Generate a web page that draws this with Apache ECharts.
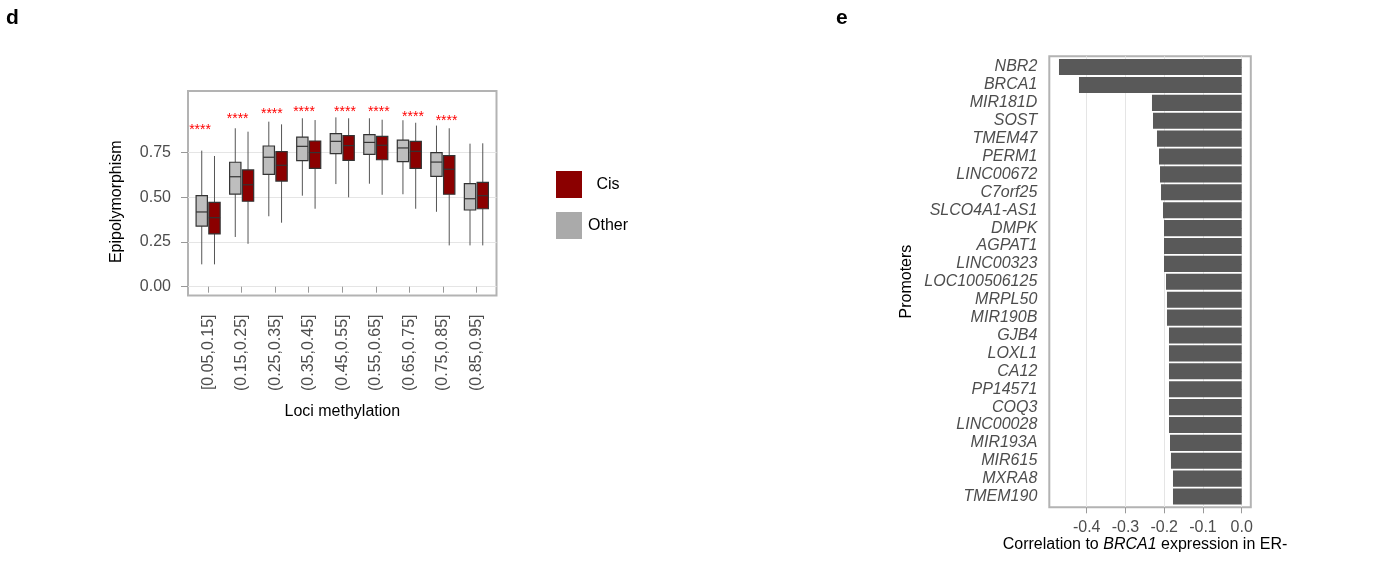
<!DOCTYPE html>
<html><head><meta charset="utf-8">
<script src="https://cdn.jsdelivr.net/npm/echarts@6/dist/echarts.min.js"></script>
<style>html,body{margin:0;padding:0;background:#fff}#c{width:1397px;height:567px}</style>
</head><body><div id="c"></div>
<script>
// ---------- Panel d data ----------
const categories = ['[0.05,0.15]','(0.15,0.25]','(0.25,0.35]','(0.35,0.45]','(0.45,0.55]','(0.55,0.65]','(0.65,0.75]','(0.75,0.85]','(0.85,0.95]'];
// [lower whisker, Q1, median, Q3, upper whisker]
const otherStats = [
  [0.125, 0.339, 0.418, 0.509, 0.761],
  [0.278, 0.518, 0.615, 0.696, 0.886],
  [0.394, 0.628, 0.724, 0.787, 0.923],
  [0.509, 0.705, 0.785, 0.836, 0.942],
  [0.574, 0.744, 0.813, 0.856, 0.947],
  [0.576, 0.740, 0.807, 0.850, 0.942],
  [0.517, 0.699, 0.776, 0.820, 0.931],
  [0.419, 0.617, 0.697, 0.750, 0.901],
  [0.231, 0.429, 0.492, 0.576, 0.800]
];
const cisStats = [
  [0.125, 0.295, 0.386, 0.472, 0.731],
  [0.240, 0.478, 0.570, 0.653, 0.867],
  [0.358, 0.591, 0.679, 0.755, 0.908],
  [0.436, 0.662, 0.750, 0.815, 0.932],
  [0.500, 0.707, 0.789, 0.845, 0.942],
  [0.514, 0.710, 0.791, 0.841, 0.934],
  [0.436, 0.662, 0.757, 0.813, 0.917],
  [0.231, 0.517, 0.657, 0.733, 0.886],
  [0.231, 0.436, 0.509, 0.584, 0.802]
];
const sigLabels = ['****','****','****','****','****','****','****','****'];
const sigY = [0.889, 0.951, 0.975, 0.986, 0.990, 0.986, 0.962, 0.936];
const sigShift = [-0.24, -0.12, -0.10, -0.14, 0.08, 0.09, 0.11, 0.11];
const leftYTicks = [0, 0.25, 0.5, 0.75];

// ---------- Panel e data ----------
const promoters = ['NBR2','BRCA1','MIR181D','SOST','TMEM47','PERM1','LINC00672','C7orf25','SLCO4A1-AS1','DMPK','AGPAT1','LINC00323','LOC100506125','MRPL50','MIR190B','GJB4','LOXL1','CA12','PP14571','COQ3','LINC00028','MIR193A','MIR615','MXRA8','TMEM190'];
const correlations = [-0.4715,-0.4199,-0.2315,-0.2289,-0.2186,-0.2134,-0.2108,-0.2082,-0.2031,-0.2005,-0.2005,-0.2005,-0.1953,-0.1928,-0.1928,-0.1876,-0.1876,-0.1876,-0.1876,-0.1876,-0.1876,-0.1850,-0.1825,-0.1773,-0.1773];
const rightXTicks = [-0.4, -0.3, -0.2, -0.1, 0];

const FONT = '"Liberation Sans", Arial, Helvetica, sans-serif';
const FRAME = '#B3B3B3';
const TICK = '#999999';
const LABEL = '#4D4D4D';
const GRIDLINE = '#E5E5E5';

const chart = echarts.init(document.getElementById('c'), null, {renderer: 'canvas'});

function boxRender(side, fill) {
  return function (params, api) {
    const i = api.value(0);
    const band = api.size([1, 0])[0];
    const base = api.coord([i, api.value(1)]);
    const cx = base[0] + side * 0.19 * band;
    const w = 0.337 * band;
    const yLo = base[1];
    const yQ1 = api.coord([i, api.value(2)])[1];
    const yMed = api.coord([i, api.value(3)])[1];
    const yQ3 = api.coord([i, api.value(4)])[1];
    const yHi = api.coord([i, api.value(5)])[1];
    return {
      type: 'group',
      children: [
        {type: 'line', shape: {x1: cx, y1: yHi, x2: cx, y2: yQ3}, style: {stroke: '#555', lineWidth: 1}},
        {type: 'line', shape: {x1: cx, y1: yQ1, x2: cx, y2: yLo}, style: {stroke: '#555', lineWidth: 1}},
        {type: 'rect', shape: {x: cx - w / 2, y: yQ3, width: w, height: yQ1 - yQ3}, style: {fill: fill, stroke: '#333', lineWidth: 1.2}},
        {type: 'line', shape: {x1: cx - w / 2, y1: yMed, x2: cx + w / 2, y2: yMed}, style: {stroke: '#333', lineWidth: 1.2}}
      ]
    };
  };
}

function sigRender(params, api) {
  const i = api.value(0);
  const band = api.size([1, 0])[0];
  const p = api.coord([i, api.value(1)]);
  return {
    type: 'text',
    x: p[0] + api.value(2) * band,
    y: p[1] + 2,
    style: {text: sigLabels[params.dataIndex], fill: '#FF0000', font: '14px ' + FONT, align: 'center', verticalAlign: 'middle'}
  };
}

const leftMin = -0.0492, leftMax = 1.0945;
const rightMin = -0.4965, rightMax = 0.0235;

const option = {
  backgroundColor: '#ffffff',
  animation: false,
  textStyle: {fontFamily: FONT},
  grid: [
    {left: 188, top: 91, width: 308.5, height: 204.5, show: true, borderColor: FRAME, borderWidth: 2, backgroundColor: 'transparent'},
    {left: 191.35, top: 91, width: 301.8, height: 204.5, show: false},
    {left: 1049.3, top: 56.3, width: 201.5, height: 451, show: true, borderColor: FRAME, borderWidth: 2, backgroundColor: 'transparent'},
    {left: 1049.3, top: 58.09, width: 201.5, height: 447.42, show: false}
  ],
  xAxis: [
    {gridIndex: 0, type: 'value', min: 0, max: 1, show: false},
    {gridIndex: 1, type: 'category', data: categories, boundaryGap: true,
      axisLine: {show: false},
      axisTick: {show: true, alignWithLabel: true, length: 6, lineStyle: {color: TICK}},
      axisLabel: {rotate: 90, margin: 19, fontSize: 16, color: LABEL, fontFamily: FONT, interval: 0, padding: [8, 0, 0, 0]},
      splitLine: {show: false}},
    {gridIndex: 2, type: 'value', min: rightMin, max: rightMax,
      axisLine: {show: false},
      axisTick: {show: true, length: 6, lineStyle: {color: TICK}, customValues: rightXTicks},
      axisLabel: {fontSize: 16, color: LABEL, fontFamily: FONT, margin: 12, customValues: rightXTicks,
        formatter: function (v) { return v.toFixed(1); }},
      splitLine: {show: true, lineStyle: {color: GRIDLINE, width: 1}}},
    {gridIndex: 3, type: 'value', min: rightMin, max: rightMax, show: false}
  ],
  yAxis: [
    {gridIndex: 0, type: 'value', min: leftMin, max: leftMax,
      axisLine: {show: false},
      axisTick: {show: true, length: 7, lineStyle: {color: TICK}, customValues: leftYTicks},
      axisLabel: {fontSize: 16, color: LABEL, fontFamily: FONT, margin: 17, customValues: leftYTicks,
        formatter: function (v) { return v.toFixed(2); }},
      splitLine: {show: true, lineStyle: {color: GRIDLINE, width: 1}}},
    {gridIndex: 1, type: 'value', min: leftMin, max: leftMax, show: false},
    {gridIndex: 2, type: 'value', min: 0, max: 1, show: false},
    {gridIndex: 3, type: 'category', data: promoters, inverse: true, boundaryGap: true,
      axisLine: {show: false},
      axisTick: {show: true, alignWithLabel: true, length: 6, lineStyle: {color: TICK}},
      axisLabel: {fontSize: 16, fontStyle: 'italic', color: LABEL, fontFamily: FONT, margin: 12, interval: 0},
      splitLine: {show: false}}
  ],
  legend: {
    data: [
      {name: 'Cis', itemStyle: {color: '#8B0000'}},
      {name: 'Other', itemStyle: {color: '#AAAAAA'}}
    ],
    orient: 'vertical', left: 556, top: 171, padding: 0, itemWidth: 26, itemHeight: 27, itemGap: 14,
    icon: 'rect', selectedMode: false,
    formatter: '{a|{name}}',
    textStyle: {rich: {a: {width: 42, align: 'center', fontSize: 16, fontFamily: FONT, color: '#000'}}}
  },
  series: [
    {name: 'Other', type: 'custom', xAxisIndex: 1, yAxisIndex: 1, itemStyle: {color: '#AAAAAA'},
      data: otherStats.map(function (s, i) { return [i].concat(s); }),
      encode: {x: 0, y: [1, 2, 3, 4, 5]}, renderItem: boxRender(-1, '#BEBEBE'), z: 3},
    {name: 'Cis', type: 'custom', xAxisIndex: 1, yAxisIndex: 1, itemStyle: {color: '#8B0000'},
      data: cisStats.map(function (s, i) { return [i].concat(s); }),
      encode: {x: 0, y: [1, 2, 3, 4, 5]}, renderItem: boxRender(1, '#8B0000'), z: 3},
    {name: 'sig', type: 'custom', xAxisIndex: 1, yAxisIndex: 1,
      data: sigY.map(function (y, i) { return [i, y, sigShift[i]]; }),
      encode: {x: 0, y: 1}, renderItem: sigRender, z: 4},
    {name: 'corr', type: 'bar', xAxisIndex: 3, yAxisIndex: 3, data: correlations,
      barCategoryGap: '10%', itemStyle: {color: '#595959'}, z: 3}
  ],
  graphic: [
    {type: 'text', left: 6, top: 8, style: {text: 'd', font: 'bold 21px ' + FONT, fill: '#000'}},
    {type: 'text', left: 836, top: 8, style: {text: 'e', font: 'bold 21px ' + FONT, fill: '#000'}},
    {type: 'text', x: 116.7, y: 201.7, rotation: Math.PI / 2,
      style: {text: 'Epipolymorphism', font: '16px ' + FONT, fill: '#000', align: 'center', verticalAlign: 'middle'}},
    {type: 'text', x: 342.3, y: 411.7,
      style: {text: 'Loci methylation', font: '16px ' + FONT, fill: '#000', align: 'center', verticalAlign: 'middle'}},
    {type: 'text', x: 906.7, y: 281.6, rotation: Math.PI / 2,
      style: {text: 'Promoters', font: '16px ' + FONT, fill: '#000', align: 'center', verticalAlign: 'middle'}},
    {type: 'text', x: 1145, y: 545,
      style: {text: '{n|Correlation to }{i|BRCA1}{n| expression in ER-}', align: 'center', verticalAlign: 'middle',
        rich: {n: {font: '16px ' + FONT, fill: '#000'}, i: {font: 'italic 16px ' + FONT, fill: '#000'}}}}
  ]
};
chart.setOption(option);
</script>
</body></html>
